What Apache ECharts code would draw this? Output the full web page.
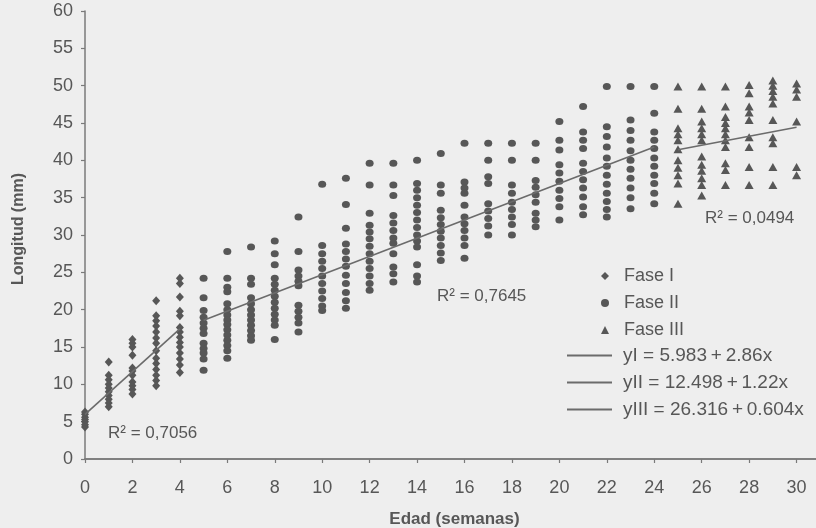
<!DOCTYPE html>
<html>
<head>
<meta charset="utf-8">
<script src="https://cdn.jsdelivr.net/npm/echarts@6/dist/echarts.min.js"></script>
<style>
html,body{margin:0;padding:0;background:#eeeeee;}
#c{width:816px;height:528px;}
</style>
</head>
<body>
<div id="c"></div>
<script>
// Tick labels
const xTicks = [0,2,4,6,8,10,12,14,16,18,20,22,24,26,28,30];
const yTicks = [0,5,10,15,20,25,30,35,40,45,50,55,60];

// Fase I (weeks 0-4)
const faseIWeeks = [0,1,2,3,4];
const faseILengths = [
  [4.3,4.6,5.0,5.3,5.6,6.0,6.3],
  [13.0,11.2,10.6,10.0,9.5,9.0,8.5,8.0,7.5,7.0],
  [16.0,15.5,15.0,13.9,12.2,11.8,11.2,10.3,9.8,9.3,8.7],
  [21.2,19.2,18.5,17.8,17.0,16.2,15.5,14.5,13.5,12.8,12.0,11.2,10.5,9.8],
  [24.2,23.5,21.7,19.8,19.2,17.6,17.0,16.3,15.6,15.0,14.2,13.4,12.6,11.6]
];

// Fase II (weeks 5-24)
const faseIIWeeks = [5,6,7,8,9,10,11,12,13,14,15,16,17,18,19,20,21,22,23,24];
const faseIILengths = [
  [24.2,21.6,19.9,19.0,18.2,17.5,16.8,15.5,14.8,14.2,13.4,11.9],
  [27.8,24.2,23.0,22.4,20.8,20.0,19.3,18.6,18.0,17.3,16.6,15.9,15.2,14.5,13.5],
  [28.4,24.2,23.4,21.6,20.8,20.0,19.3,18.6,17.9,17.2,16.5,15.9],
  [29.2,27.5,26.0,24.2,23.4,22.6,21.8,21.0,20.2,19.4,18.6,17.9,16.0],
  [32.4,27.8,25.3,24.5,23.8,23.2,20.6,19.8,19.0,18.2,17.0],
  [36.8,28.6,27.5,26.5,25.5,24.5,23.5,22.5,21.5,20.5,19.9],
  [37.6,34.1,30.9,28.8,27.8,26.8,25.8,24.6,23.5,22.3,21.2,20.2],
  [39.6,36.7,32.9,31.3,30.4,29.5,28.5,27.5,26.5,25.5,24.5,23.5,22.6],
  [39.6,36.7,35.3,32.6,31.6,30.6,29.6,28.9,27.5,25.7,24.8,23.7],
  [40.0,36.9,36.0,35.0,34.0,33.0,32.0,31.0,30.0,29.2,28.4,26.0,24.5,23.7],
  [40.9,36.7,35.6,33.3,32.3,31.4,30.5,29.6,28.6,27.6,26.6],
  [42.3,37.1,36.3,35.6,34.0,32.4,31.5,30.6,29.6,28.6,26.9],
  [42.3,40.0,37.8,36.9,34.2,33.2,32.2,31.2,30.0],
  [42.3,40.0,36.7,35.6,34.4,33.4,32.4,31.4,30.0],
  [42.3,40.0,37.3,36.4,35.4,34.4,32.9,32.0,31.1],
  [45.2,42.7,41.4,39.4,38.3,37.2,36.0,34.9,33.8,32.0],
  [47.2,43.8,42.7,41.6,39.6,38.5,37.4,36.3,35.1,33.8,32.7],
  [49.9,44.5,43.2,41.8,40.3,39.2,38.0,36.8,35.6,34.5,33.4,32.4],
  [49.9,45.4,44.0,42.7,41.3,40.0,38.8,37.6,36.3,35.0,33.5],
  [49.9,46.3,43.8,42.7,41.6,40.3,39.2,38.0,36.9,35.6,34.2]
];

// Fase III (weeks 25-30)
const faseIIIWeeks = [25,26,27,28,29,30];
const faseIIILengths = [
  [49.9,46.9,44.3,43.5,42.7,41.5,40.0,39.0,38.0,36.9,34.2],
  [49.9,46.9,45.2,44.3,43.5,42.7,40.5,39.4,38.6,37.6,36.7,35.3],
  [49.9,47.2,45.8,45.0,44.3,43.5,42.7,41.8,39.6,38.7,36.7],
  [50.1,49.0,47.2,46.4,45.4,43.1,41.8,39.1,36.7],
  [50.7,50.0,49.3,48.5,47.6,45.4,43.1,42.3,39.1,36.7],
  [50.3,49.5,48.5,45.2,39.1,38.0]
];

// Regression lines (as printed in the legend)
const regNames = ['yI = 5.983\u2009+\u20092.86x','yII = 12.498\u2009+\u20091.22x','yIII = 26.316\u2009+\u20090.604x'];
const regIntercepts = [5.983, 12.498, 26.316];
const regSlopes = [2.86, 1.22, 0.604];
const regRanges = [[0,4],[5,24],[25,30]];
const r2Labels = ['R\u00B2 = 0,7056','R\u00B2 = 0,7645','R\u00B2 = 0,0494'];
const phaseNames = ['Fase I','Fase II','Fase III'];

function pts(weeks, vals){
  const out = [];
  weeks.forEach((w,i)=>vals[i].forEach(v=>out.push([w,v])));
  return out;
}
function regLine(k){
  return regRanges[k].map(x=>[x, regIntercepts[k] + regSlopes[k]*x]);
}

const PT = '#575757';
const LN = '#6b6b6b';
const TXT = '#575757';
const AX = '#7a7a7a';
const FONT = '"Liberation Sans", Arial, sans-serif';

const chart = echarts.init(document.getElementById('c'), null, {renderer:'canvas'});
chart.setOption({
  backgroundColor: '#eeeeee',
  animation: false,
  grid: {left:85, top:11, width:759, bottom:69, containLabel:false, outerBoundsMode:'none'},
  xAxis: [{
    type:'value', min:0, max:32, interval:2, position:'bottom',
    name:'Edad (semanas)', nameLocation:'middle', nameGap:52,
    nameTextStyle:{fontFamily:FONT, fontSize:17, fontWeight:'bold', color:TXT, padding:[0,20,0,0]},
    axisLine:{show:true, onZero:false, lineStyle:{color:AX, width:1.5}},
    axisTick:{show:true, inside:false, length:4, lineStyle:{color:AX, width:1.2}},
    axisLabel:{show:true, margin:20, fontFamily:FONT, fontSize:18, color:TXT,
      formatter:v=> xTicks.indexOf(v) >= 0 ? String(v) : ''},
    splitLine:{show:false}
  },{
    type:'value', min:0, max:32, position:'top',
    axisLine:{show:true, lineStyle:{color:AX, width:1.5}},
    axisTick:{show:false}, axisLabel:{show:false}, splitLine:{show:false}
  }],
  yAxis: {
    type:'value', min:0, max:60, interval:5,
    name:'Longitud (mm)', nameLocation:'middle', nameGap:58, nameRotate:90,
    nameTextStyle:{fontFamily:FONT, fontSize:16, fontWeight:'bold', color:TXT, padding:[0,0,0,12]},
    axisLine:{show:true, lineStyle:{color:AX, width:1.5}},
    axisTick:{show:true, inside:false, length:4, lineStyle:{color:AX, width:1.2}},
    axisLabel:{margin:12, fontFamily:FONT, fontSize:18, color:TXT,
      formatter:v=> yTicks.indexOf(v) >= 0 ? String(v) : ''},
    splitLine:{show:false}
  },
  legend: [{
    orient:'vertical', left:601, top:267, padding:0, itemWidth:8, itemHeight:8, itemGap:9,
    data:phaseNames, textStyle:{fontFamily:FONT, fontSize:18, color:TXT, lineHeight:18, padding:[0,0,0,10]}
  },{
    orient:'vertical', left:567, top:346, padding:0, itemWidth:45, itemHeight:2, itemGap:8, icon:'rect',
    data:regNames, textStyle:{fontFamily:FONT, fontSize:19, color:TXT, lineHeight:18, padding:[0,0,0,6]}
  }],
  series: [
    {name:phaseNames[0], type:'scatter', symbol:'diamond', symbolSize:[8,9],
     itemStyle:{color:PT, opacity:1}, data:pts(faseIWeeks, faseILengths)},
    {name:phaseNames[1], type:'scatter', symbol:'circle', symbolSize:[8,7],
     itemStyle:{color:PT, opacity:1}, data:pts(faseIIWeeks, faseIILengths)},
    {name:phaseNames[2], type:'scatter', symbol:'triangle', symbolSize:[9,8],
     itemStyle:{color:PT, opacity:1}, data:pts(faseIIIWeeks, faseIIILengths)},
    {name:regNames[0], type:'line', symbol:'none', lineStyle:{color:LN, width:1.6}, itemStyle:{color:LN}, data:regLine(0), z:3},
    {name:regNames[1], type:'line', symbol:'none', lineStyle:{color:LN, width:1.6}, itemStyle:{color:LN}, data:regLine(1), z:3},
    {name:regNames[2], type:'line', symbol:'none', lineStyle:{color:LN, width:1.6}, itemStyle:{color:LN}, data:regLine(2), z:3}
  ],
  graphic: [
    {type:'text', left:108, top:425, style:{text:r2Labels[0], font:'17px '+FONT, fill:TXT}},
    {type:'text', left:437, top:288, style:{text:r2Labels[1], font:'17px '+FONT, fill:TXT}},
    {type:'text', left:705, top:210, style:{text:r2Labels[2], font:'17px '+FONT, fill:TXT}}
  ]
});
</script>
</body>
</html>
